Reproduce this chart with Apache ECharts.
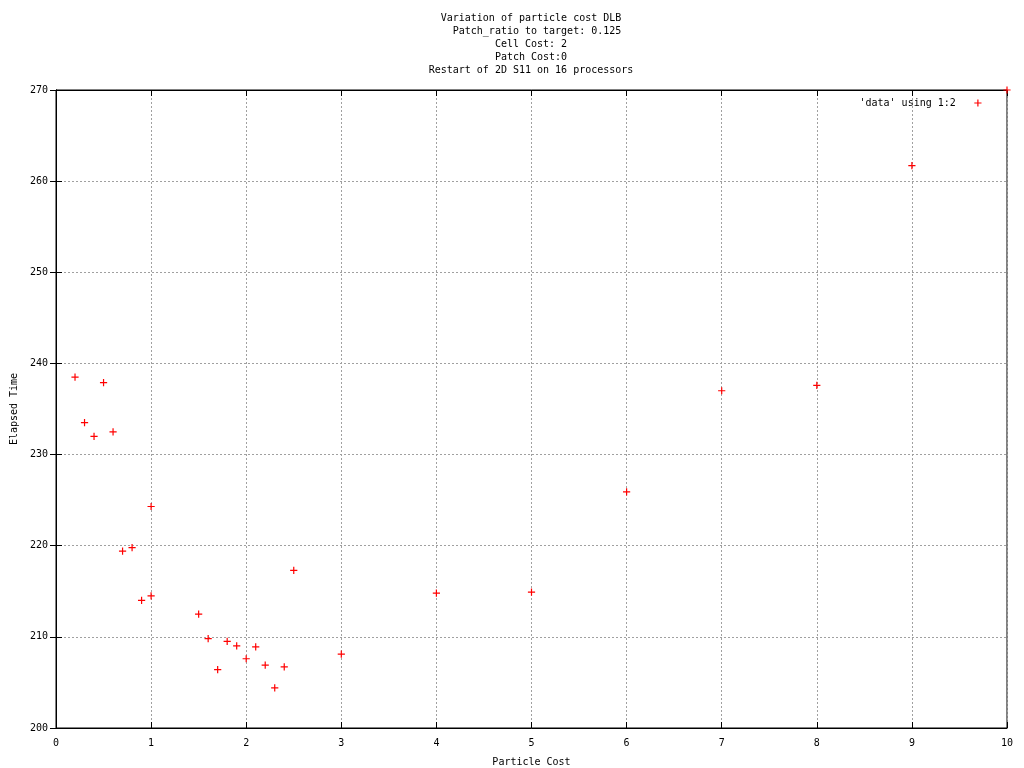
<!DOCTYPE html>
<html>
<head>
<meta charset="utf-8">
<script src="https://cdn.jsdelivr.net/npm/echarts@6/dist/echarts.min.js"></script>
<style>html,body{margin:0;padding:0;background:#fff}#c{width:1024px;height:768px}</style>
</head>
<body>
<div id="c"></div>
<script>
var titleLines = ['Variation of particle cost DLB', '  Patch_ratio to target: 0.125', 'Cell Cost: 2', 'Patch Cost:0', 'Restart of 2D S11 on 16 processors'];
var xTicks = [0, 1, 2, 3, 4, 5, 6, 7, 8, 9, 10];
var yTicks = [200, 210, 220, 230, 240, 250, 260, 270];
var particleCost = [0.2, 0.3, 0.4, 0.5, 0.6, 0.7, 0.8, 0.9, 1.0, 1.0, 1.5, 1.6, 1.7, 1.8, 1.9, 2.0, 2.1, 2.2, 2.3, 2.4, 2.5, 3, 4, 5, 6, 7, 8, 9, 10];
var elapsedTime = [238.5, 233.5, 232.0, 237.9, 232.5, 219.4, 219.8, 214.0, 224.3, 214.5, 212.5, 209.8, 206.4, 209.5, 209.0, 207.6, 208.9, 206.9, 204.4, 206.7, 217.3, 208.1, 214.8, 214.9, 225.9, 237.0, 237.6, 261.7, 270.0];

var data = particleCost.map(function (x, i) { return [x, elapsedTime[i]]; });
var FONT = 'DejaVu Sans Mono';
var plus = 'path://M3,0h1.2v3h3v1.2h-3v3h-1.2v-3h-3v-1.2h3z';
var chart = echarts.init(document.getElementById('c'), null, {renderer: 'canvas'});
var grid = {left: 56, right: 17, top: 90, bottom: 40, outerBoundsMode: 'none', containLabel: false,
  show: true, borderColor: '#000', borderWidth: 1, backgroundColor: 'transparent'};
function tickAxis(extra) {
  return Object.assign({
    type: 'value',
    axisLine: {show: true, lineStyle: {color: '#000', width: 1}},
    axisTick: {show: true, inside: true, length: 6, lineStyle: {color: '#000'}},
    axisLabel: {show: false},
    splitLine: {show: false}
  }, extra);
}
chart.setOption({
  animation: false,
  backgroundColor: '#fff',
  title: {
    text: titleLines.join('\n'),
    left: 531, top: 12, padding: 0, textAlign: 'center',
    textStyle: {fontFamily: FONT, fontSize: 10, fontWeight: 'normal', color: '#000', lineHeight: 13}
  },
  legend: {
    show: true, right: 42.5, top: 98, padding: 0, align: 'right',
    itemWidth: 7.2, itemHeight: 7.2,
    icon: plus,
    formatter: function (n) { return '{a|' + n + '}'; },
    textStyle: {fontFamily: FONT, fontSize: 10, color: '#000',
      rich: {a: {fontFamily: FONT, fontSize: 10, color: '#000', padding: [0, 13.5, 0, 0]}}},
    data: [{name: "'data' using 1:2", icon: plus, itemStyle: {color: '#ff0000'}}]
  },
  grid: grid,
  xAxis: [
    tickAxis({
      min: 0, max: 10, interval: 1, position: 'bottom',
      name: 'Particle Cost', nameLocation: 'middle', nameGap: 29,
      nameTextStyle: {fontFamily: FONT, fontSize: 10, color: '#000'},
      axisLabel: {show: true, margin: 10, fontFamily: FONT, fontSize: 10, color: '#000',
        customValues: xTicks},
      splitLine: {show: true, lineStyle: {color: '#a0a0a0', type: [2, 2], width: 1}}
    }),
    tickAxis({min: 0, max: 10, interval: 1, position: 'top'})
  ],
  yAxis: [
    tickAxis({
      min: 200, max: 270, interval: 10, position: 'left',
      name: 'Elapsed Time', nameLocation: 'middle', nameGap: 37,
      nameTextStyle: {fontFamily: FONT, fontSize: 10, color: '#000'},
      axisLabel: {show: true, margin: 8, fontFamily: FONT, fontSize: 10, color: '#000',
        customValues: yTicks},
      splitLine: {show: true, lineStyle: {color: '#a0a0a0', type: [2, 2], width: 1}}
    }),
    tickAxis({min: 200, max: 270, interval: 10, position: 'right'})
  ],
  series: [{
    name: "'data' using 1:2",
    type: 'scatter',
    xAxisIndex: 0, yAxisIndex: 0,
    symbol: plus,
    symbolSize: 7.2,
    itemStyle: {color: '#ff0000', opacity: 1},
    emphasis: {disabled: true},
    clip: false,
    data: data
  }]
});
</script>
</body>
</html>
